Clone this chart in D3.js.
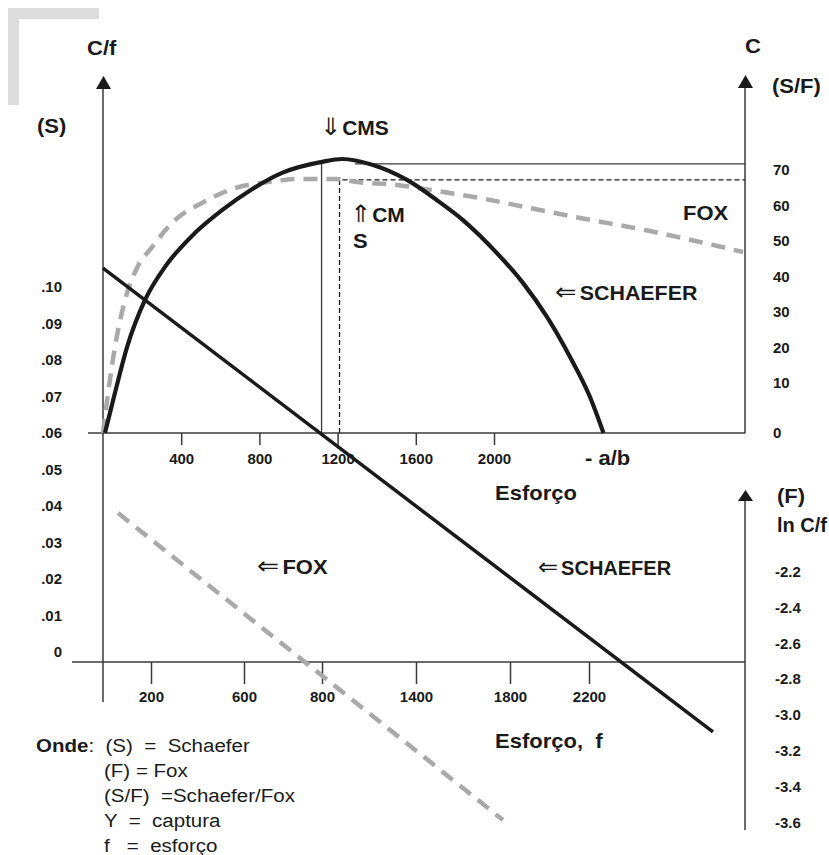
<!DOCTYPE html>
<html><head><meta charset="utf-8">
<script src="https://cdn.jsdelivr.net/npm/d3@7"></script>
<style>
body{margin:0;background:#fff}
svg{display:block}
text{font-family:"Liberation Sans",Arial,Helvetica,sans-serif;fill:#1a1a1a}
</style>
</head><body>
<svg id="chart" width="829" height="855"></svg>
<script>
// ---------------- data ----------------
const effortTicksTop = [400, 800, 1200, 1600, 2000];
const effortTicksBottom = [200, 600, 800, 1400, 1800, 2200];
const cpueTicks = [0, 0.01, 0.02, 0.03, 0.04, 0.05, 0.06, 0.07, 0.08, 0.09, 0.10];
const catchTicks = [0, 10, 20, 30, 40, 50, 60, 70];
const lnCpueTicks = [-2.2, -2.4, -2.6, -2.8, -3.0, -3.2, -3.4, -3.6];

// Schaefer catch curve (effort, catch)
const schaeferEffort = [10, 61, 123, 215, 317, 471, 609, 762, 916, 1120, 1222, 1381, 1555, 1708, 1841, 2015, 2148, 2271, 2389, 2491, 2560];
const schaeferCatch  = [0, 8.0, 20.1, 33.4, 42.7, 52.3, 58.7, 64.6, 69.2, 72.3, 73.1, 71.4, 67.2, 61.5, 55.9, 46.6, 38.2, 28.6, 17.3, 7.2, 0];
// Fox catch curve (effort, catch)
const foxEffort = [0, 26, 61, 113, 174, 251, 368, 506, 675, 844, 1018, 1187, 1299, 1504, 1673, 1928, 2184, 2440, 2798, 3054, 3274];
const foxCatch  = [0, 8.0, 20.1, 33.4, 42.4, 48.3, 55.9, 60.7, 64.9, 66.6, 67.5, 67.5, 66.6, 65.8, 64.4, 62.1, 59.3, 56.5, 52.8, 49.7, 46.9];
// Schaefer linear CPUE (effort, C/f)
const schaeferCpueEffort = [0, 3120];
const schaeferCpue = [0.1052, -0.0219];
// Fox ln(C/f) line (effort, ln C/f)
const foxLnEffort = [77, 2046];
const foxLnCpue = [-1.874, -3.586];
// MSY reference points (effort, catch)
const cmsSchaefer = [1118, 71.7];
const cmsSchaeferLineFrom = 1289;
const cmsFox = [1210, 67.2];

// ---------------- layout ----------------
const svg = d3.select("#chart");
const FONT = '"Liberation Sans",Arial,Helvetica,sans-serif';
const axisColor = "#3a3a3a";
const xLeft = 103, xRight = 745;

const x = d3.scaleLinear().domain([0, 2000]).range([103, 494]);
const xLow = d3.scaleLinear().domain([0].concat(effortTicksBottom)).range([103, 151, 244, 322, 416, 510, 589]);
const yS = d3.scaleLinear().domain([0, 0.10]).range([652, 287]);
const yC = d3.scaleLinear().domain([0, 10, 70]).range([433, 383, 170]);
const yF = d3.scaleLinear().domain([-2.2, -3.6]).range([571.5, 822.5]);

const yTopAxis = yS(0.06);     // upper effort axis
const yLowAxis = 662;          // lower effort axis

// decorative grey corner
svg.append("path")
  .attr("d", "M8,8H99V19H19V105H8Z")
  .attr("fill", "#dcdcdc");

// axis lines
function line(x1, y1, x2, y2, w) {
  svg.append("line").attr("x1", x1).attr("y1", y1).attr("x2", x2).attr("y2", y2)
    .attr("stroke", axisColor).attr("stroke-width", w || 1.5);
}
function arrow(cx, tipY, baseY) {
  svg.append("path").attr("d", `M${cx},${tipY}L${cx + 7.5},${baseY}L${cx - 7.5},${baseY}Z`).attr("fill", "#1a1a1a");
}
line(xLeft, 84, xLeft, 702);
arrow(xLeft + 0.5, 76, 89);
line(xRight, 83, xRight, yTopAxis);
arrow(xRight + 0.5, 75, 88);
line(xRight, 496, xRight, 830);
arrow(xRight + 0.5, 490, 501);
line(88, yTopAxis, xRight, yTopAxis);
line(72, yLowAxis, xRight, yLowAxis);

// upper effort axis
const axTop = svg.append("g").attr("transform", `translate(0,${yTopAxis})`)
  .call(d3.axisBottom(x).tickValues(effortTicksTop).tickSize(12).tickPadding(8).tickFormat(d3.format("d")));
// lower effort axis
const axLow = svg.append("g").attr("transform", `translate(0,${yLowAxis})`)
  .call(d3.axisBottom(xLow).tickValues(effortTicksBottom).tickSize(22).tickPadding(7).tickFormat(d3.format("d")));
// left C/f axis (labels only)
const axS = svg.append("g").attr("transform", `translate(${xLeft},0)`)
  .call(d3.axisLeft(yS).tickValues(cpueTicks).tickSize(0).tickPadding(41)
    .tickFormat(d => d === 0 ? "0" : d3.format(".2f")(d).replace(/^0/, "")));
// right catch axis
const axC = svg.append("g").attr("transform", `translate(${xRight},0)`)
  .call(d3.axisRight(yC).tickValues(catchTicks).tickSize(0).tickPadding(28).tickFormat(d3.format("d")));
// right ln C/f axis
const axF = svg.append("g").attr("transform", `translate(${xRight},0)`)
  .call(d3.axisRight(yF).tickValues(lnCpueTicks).tickSize(0).tickPadding(30).tickFormat(d => d.toFixed(1)));

[axTop, axLow, axS, axC, axF].forEach(g => {
  g.select(".domain").remove();
  g.selectAll(".tick line").attr("stroke", axisColor).attr("stroke-width", 1.5);
  g.selectAll(".tick text").attr("font-family", FONT).attr("font-size", 15).attr("font-weight", "bold").attr("fill", "#1a1a1a");
});

// MSY reference lines
svg.append("line").attr("x1", x(cmsSchaefer[0])).attr("x2", x(cmsSchaefer[0]))
  .attr("y1", yC(cmsSchaefer[1])).attr("y2", yC(0)).attr("stroke", axisColor).attr("stroke-width", 1.3);
svg.append("line").attr("x1", x(cmsSchaeferLineFrom)).attr("x2", xRight)
  .attr("y1", yC(cmsSchaefer[1])).attr("y2", yC(cmsSchaefer[1])).attr("stroke", axisColor).attr("stroke-width", 1.3);
svg.append("path")
  .attr("d", `M${x(cmsFox[0])},${yC(0)}V${yC(cmsFox[1])}H${xRight}`)
  .attr("fill", "none").attr("stroke", "#1a1a1a").attr("stroke-width", 1.3).attr("stroke-dasharray", "5,3");

// curves
const grey = "#a9a9a9";
const lineGen = d3.line().x(d => x(d[0])).y(d => d[1]).curve(d3.curveMonotoneX);

svg.append("path")
  .datum(foxEffort.map((f, i) => [f, yC(foxCatch[i])]))
  .attr("d", lineGen).attr("fill", "none").attr("stroke", grey).attr("stroke-width", 4.5)
  .attr("stroke-dasharray", "14,9");

svg.append("path")
  .datum(schaeferEffort.map((f, i) => [f, yC(schaeferCatch[i])]))
  .attr("d", lineGen).attr("fill", "none").attr("stroke", "#1a1a1a").attr("stroke-width", 4.2)
  .attr("stroke-linejoin", "round");

svg.append("path")
  .datum(schaeferCpueEffort.map((f, i) => [f, yS(schaeferCpue[i])]))
  .attr("d", d3.line().x(d => x(d[0])).y(d => d[1]))
  .attr("fill", "none").attr("stroke", "#1a1a1a").attr("stroke-width", 3.5);

svg.append("path")
  .datum(foxLnEffort.map((f, i) => [f, yF(foxLnCpue[i])]))
  .attr("d", d3.line().x(d => x(d[0])).y(d => d[1]))
  .attr("fill", "none").attr("stroke", grey).attr("stroke-width", 4.5).attr("stroke-dasharray", "14,9");

// text labels
function label(px, py, parts, opt) {
  opt = opt || {};
  const t = svg.append("text")
    .attr("transform", `translate(${px},${py}) scale(${opt.sx || 1.1},1)`)
    .attr("font-family", FONT).attr("font-size", opt.size || 20)
    .attr("font-weight", opt.weight || "bold")
    .attr("text-anchor", opt.anchor || "start")
    .style("white-space", "pre");
  parts.forEach(p => {
    if (typeof p === "string") t.append("tspan").text(p);
    else t.append("tspan").attr("font-weight", p.w || null).attr("font-family", p.f || null)
      .attr("font-size", p.s || null).attr("dx", p.dx || null).text(p.t);
  });
  return t;
}
const arrowFont = '"DejaVu Sans",sans-serif';
const arr = (ch) => ({t: ch, w: "normal", f: arrowFont, s: 24});

label(87, 55, ["C/f"]);
label(37, 133, ["(S)"]);
label(745, 53, ["C"]);
label(772, 93, ["(S/F)"]);
label(320, 135, [arr("\u21D3"), {t: "CMS", dx: 1}], {sx: 1.05});
label(350, 222, [arr("\u21D1"), {t: "CM", dx: 1}], {sx: 1.05});
label(353, 248, ["S"]);
label(683, 220, ["FOX"]);
label(555, 300, [arr("\u21D0"), {t: "SCHAEFER", dx: 3}], {sx: 1.07});
label(585, 465, ["- a/b"]);
label(495, 500, ["Esfor\u00E7o"]);
label(777, 503, ["(F)"]);
label(777, 532, ["ln C/f"], {sx: 1.0});
label(257, 574, [arr("\u21D0"), {t: "FOX", dx: 3}]);
label(538, 575, [arr("\u21D0"), {t: "SCHAEFER", dx: 3}], {sx: 1.0});
label(495, 748, ["Esfor\u00E7o,  f"]);

const legendLines = [
  [{t: "Onde", w: "bold"}, ":  (S)  =  Schaefer"],
  ["(F) = Fox"],
  ["(S/F)  =Schaefer/Fox"],
  ["Y  =  captura"],
  ["f   =  esfor\u00E7o"]
];
const legendY = [752, 777, 802, 827, 852];
legendLines.forEach((parts, i) => {
  label(i === 0 ? 36 : 104, legendY[i], parts, {weight: "normal", size: 19, sx: 1.08});
});
</script>
</body></html>
